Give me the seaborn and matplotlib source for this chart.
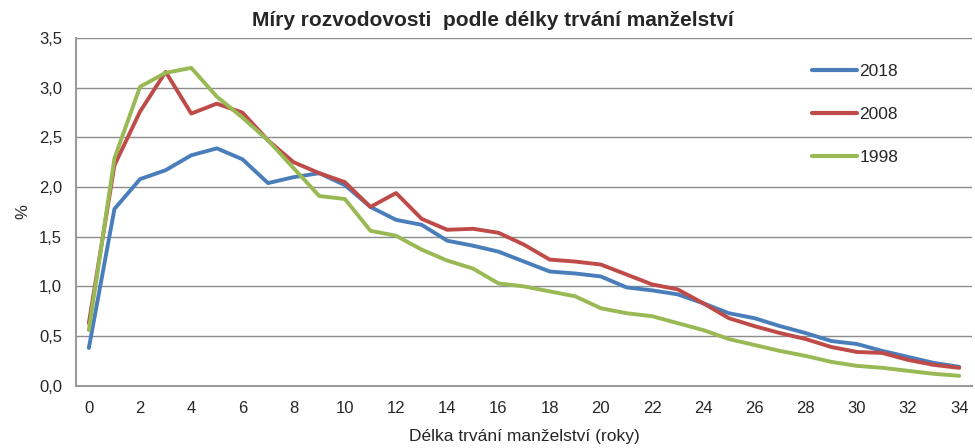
import matplotlib
matplotlib.use("Agg")
import matplotlib.pyplot as plt
import numpy as np
import pandas as pd
import seaborn as sns

# Délka trvání manželství (roky)
years = list(range(35))

rate_2018 = [0.38, 1.78, 2.08, 2.17, 2.32, 2.39, 2.28, 2.04, 2.10, 2.14, 2.02, 1.80, 1.67, 1.62, 1.46, 1.41,
             1.35, 1.25, 1.15, 1.13, 1.10, 0.99, 0.96, 0.92, 0.83, 0.73, 0.68, 0.60, 0.53, 0.45, 0.42, 0.35,
             0.29, 0.23, 0.19]
rate_2008 = [0.63, 2.22, 2.76, 3.16, 2.74, 2.84, 2.75, 2.47, 2.25, 2.14, 2.05, 1.80, 1.94, 1.68, 1.57, 1.58,
             1.54, 1.42, 1.27, 1.25, 1.22, 1.12, 1.02, 0.97, 0.83, 0.68, 0.60, 0.53, 0.47, 0.39, 0.34, 0.33,
             0.26, 0.21, 0.18]
rate_1998 = [0.56, 2.29, 3.01, 3.15, 3.20, 2.91, 2.70, 2.47, 2.19, 1.91, 1.88, 1.56, 1.51, 1.37, 1.26, 1.18,
             1.03, 1.00, 0.95, 0.90, 0.78, 0.73, 0.70, 0.63, 0.56, 0.47, 0.41, 0.35, 0.30, 0.24, 0.20, 0.18,
             0.15, 0.12, 0.10]

series = ["2018", "2008", "1998"]
colors = ["#4a7ebb", "#be4b48", "#98b954"]

df = pd.DataFrame({
    "rok": years * 3,
    "hodnota": rate_2018 + rate_2008 + rate_1998,
    "serie": [s for s in series for _ in years],
})

sns.set_style("white")
plt.rcParams["font.family"] = ["Liberation Sans", "DejaVu Sans"]

fig = plt.figure(figsize=(9.75, 4.48), dpi=100)
ax = fig.add_axes([0.078, 0.139, 0.919, 0.776])

sns.lineplot(data=df, x="rok", y="hodnota", hue="serie", hue_order=series,
             palette=colors, linewidth=2.8, ax=ax)

ax.set_xlim(-0.5, 34.5)
ax.set_ylim(0, 3.5)
ax.set_yticks(np.arange(0, 3.51, 0.5))
ax.set_yticklabels([f"{v:.1f}".replace(".", ",") for v in np.arange(0, 3.51, 0.5)])
ax.set_xticks(range(0, 35, 2))
ax.set_xticks(np.arange(-0.5, 35, 1), minor=True)
ax.tick_params(axis="x", which="major", length=0, pad=11, labelsize=12)
ax.tick_params(axis="x", which="minor", length=5, width=1, color="#868686", direction="out")
ax.tick_params(axis="y", length=6, width=1, color="#868686", direction="out", pad=4, labelsize=12)
ax.yaxis.grid(True, color="#8c8c8c", linewidth=1)
ax.set_axisbelow(True)

for s in ["top", "right"]:
    ax.spines[s].set_visible(False)
for s in ["left", "bottom"]:
    ax.spines[s].set_color("#9a9a9a")
    ax.spines[s].set_linewidth(1.5)

ax.set_xlabel("Délka trvání manželství (roky)", fontsize=12.5, labelpad=9)
ax.set_ylabel("%", fontsize=12, labelpad=6)

fig.suptitle("Míry rozvodovosti  podle délky trvání manželství", x=0.505, y=0.975,
             fontsize=15, fontweight="bold")

leg = ax.legend(loc="upper right", bbox_to_anchor=(0.935, 0.97), frameon=False,
                fontsize=12.5, handlelength=2.6, handletextpad=0.15, labelspacing=1.6)
for line in leg.get_lines():
    line.set_linewidth(3)

fig.savefig("out.png", dpi=100)
